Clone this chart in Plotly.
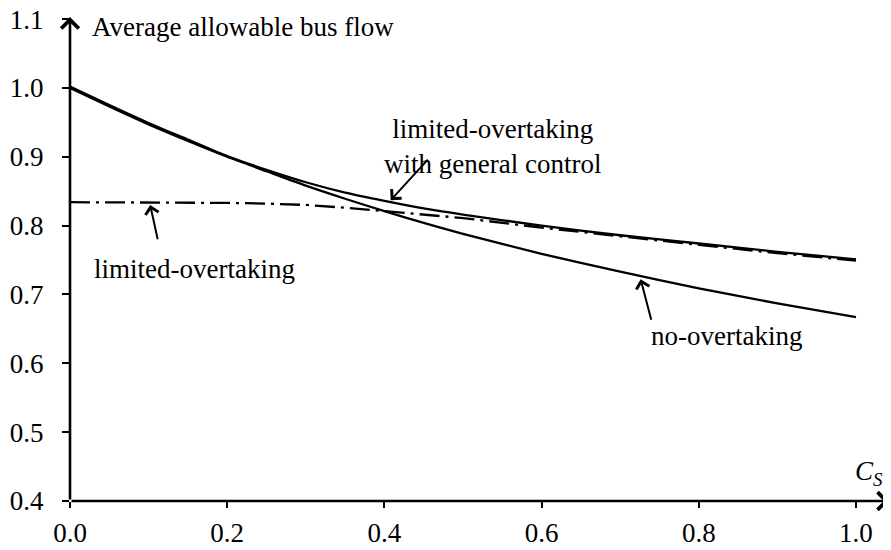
import plotly.graph_objects as go

# ---- data ----
cs = [0.0, 0.05, 0.1, 0.15, 0.2, 0.25, 0.3, 0.35, 0.4, 0.45, 0.5, 0.6, 0.7, 0.8, 0.9, 1.0]
no_overtaking = [1.000, 0.973, 0.947, 0.923, 0.900, 0.879, 0.858, 0.839, 0.821, 0.804,
                 0.788, 0.759, 0.733, 0.709, 0.687, 0.667]
general_control = [1.002, 0.975, 0.949, 0.925, 0.901, 0.881, 0.863, 0.848, 0.836, 0.825,
                   0.816, 0.800, 0.786, 0.774, 0.762, 0.751]
limited_overtaking = [0.834, 0.834, 0.834, 0.834, 0.833, 0.832, 0.830, 0.826, 0.821, 0.816,
                      0.811, 0.797, 0.784, 0.772, 0.760, 0.749]

x_ticks = [0.0, 0.2, 0.4, 0.6, 0.8, 1.0]
x_tick_labels = ["0.0", "0.2", "0.4", "0.6", "0.8", "1.0"]
y_ticks = [0.4, 0.5, 0.6, 0.7, 0.8, 0.9, 1.0, 1.1]
y_tick_labels = ["0.4", "0.5", "0.6", "0.7", "0.8", "0.9", "1.0", "1.1"]

y_title = "Average allowable bus flow"
x_title = "<i>C</i><sub><i>S</i></sub>"

X_RANGE = [0.0, 1.042]
Y_RANGE = [0.4, 1.103]

FONT = "Times New Roman"
FS = 27
LW = 2.3

fig = go.Figure()

fig.add_trace(go.Scatter(x=cs, y=limited_overtaking, mode="lines", name="limited-overtaking",
                         line=dict(color="black", width=LW, dash="20px,6px,3px,6px")))
fig.add_trace(go.Scatter(x=cs, y=no_overtaking, mode="lines", name="no-overtaking",
                         line=dict(color="black", width=LW, shape="spline", smoothing=0.6)))
fig.add_trace(go.Scatter(x=cs, y=general_control, mode="lines",
                         name="limited-overtaking with general control",
                         line=dict(color="black", width=LW, shape="spline", smoothing=0.6)))

annotations = []

# axis arrows
annotations.append(dict(x=X_RANGE[1], y=Y_RANGE[0], ax=X_RANGE[0], ay=Y_RANGE[0],
                        xref="x", yref="y", axref="x", ayref="y", text="",
                        showarrow=True, arrowhead=4, arrowsize=1.3, arrowwidth=2.6,
                        arrowcolor="black", standoff=0, startstandoff=0))
annotations.append(dict(x=X_RANGE[0], y=Y_RANGE[1], ax=X_RANGE[0], ay=Y_RANGE[0],
                        xref="x", yref="y", axref="x", ayref="y", text="",
                        showarrow=True, arrowhead=4, arrowsize=1.3, arrowwidth=2.6,
                        arrowcolor="black", standoff=0, startstandoff=0))

# axis titles
annotations.append(dict(x=0.025, y=1.088, xref="x", yref="y", text=y_title,
                        showarrow=False, xanchor="left", yanchor="middle",
                        font=dict(family=FONT, size=FS, color="black")))
annotations.append(dict(x=1.037, y=0.44, xref="x", yref="y", text=x_title,
                        showarrow=False, xanchor="right", yanchor="middle",
                        font=dict(family=FONT, size=FS, color="black")))

# curve labels with pointer arrows
def label(text, tx, ty, px, py, bx, by):
    annotations.append(dict(x=tx, y=ty, xref="x", yref="y", text=text, showarrow=False,
                            xanchor="center", yanchor="middle",
                            font=dict(family=FONT, size=FS, color="black")))
    annotations.append(dict(x=px, y=py, ax=bx, ay=by, xref="x", yref="y",
                            axref="x", ayref="y", text="", showarrow=True,
                            arrowhead=4, arrowsize=1.3, arrowwidth=2,
                            arrowcolor="black", standoff=0))

label("limited-overtaking<br>with general control", 0.537, 0.915,
      0.408, 0.837, 0.457, 0.898)
label("limited-overtaking", 0.159, 0.737, 0.102, 0.830, 0.112, 0.778)
label("no-overtaking", 0.835, 0.640, 0.726, 0.722, 0.740, 0.661)

# the page body adds an 8px offset; the figure is sized to compensate
fig.update_layout(
    width=883, height=542,
    margin=dict(l=62, r=2, t=9, b=49),
    paper_bgcolor="white", plot_bgcolor="white",
    showlegend=False,
    font=dict(family=FONT, size=FS, color="black"),
    annotations=annotations,
    xaxis=dict(range=X_RANGE, tickvals=x_ticks, ticktext=x_tick_labels,
               ticks="outside", ticklen=6, tickwidth=2, tickcolor="black",
               showline=False, showgrid=False, zeroline=False, automargin=False,
               ticklabelstandoff=2, ticklabeloverflow="allow",
               tickfont=dict(family=FONT, size=FS, color="black")),
    yaxis=dict(range=Y_RANGE, tickvals=y_ticks, ticktext=y_tick_labels,
               ticks="outside", ticklen=7, tickwidth=2, tickcolor="black",
               showline=False, showgrid=False, zeroline=False, automargin=False,
               ticklabelstandoff=13, ticklabeloverflow="allow",
               tickfont=dict(family=FONT, size=FS, color="black")),
)

fig.write_html("out.html")
